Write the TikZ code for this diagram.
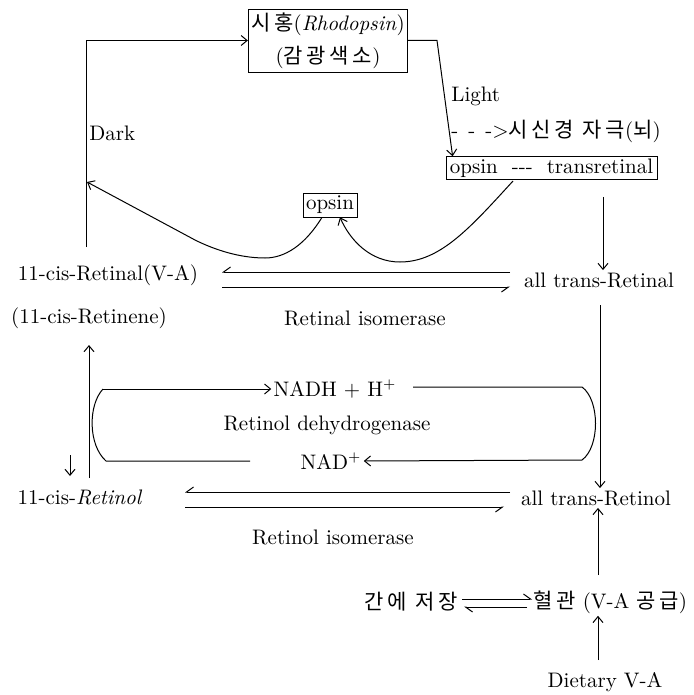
\documentclass[tikz,border=0pt]{standalone}
\usepackage{fontspec}
\newfontfamily\kr[LetterSpace=18]{Noto Sans CJK KR}
\usetikzlibrary{arrows.meta,calc}
\begin{document}
\begin{tikzpicture}[x=0.5pt,y=-0.5pt,
  every node/.style={inner sep=1pt, font=\fontsize{10.5}{12}\selectfont},
  boxed/.style={draw, line width=0.4pt, inner sep=1.5pt},
  ln/.style={line width=0.5pt},
  arr/.style={ln, -{Straight Barb[length=3pt,width=5pt]}},
  hpa/.style={ln, -{Straight Barb[harpoon,length=3.5pt,width=5pt]}},
  hpb/.style={ln, -{Straight Barb[harpoon,swap,length=3.5pt,width=5pt]}}]
\useasboundingbox (0,0) rectangle (693,695);

% nodes
\node[boxed, minimum width=78pt, minimum height=31.5pt, align=center] (rho) at (328,40.5)
  {{\kr 시홍}(\textit{Rhodopsin})\\[4.5pt]({\kr 감광색소})};
\node[anchor=west] (light) at (449,96) {Light};
\node[anchor=west] (nerve) at (449,131) {-\hspace{5pt}-\hspace{5pt}->{\kr 시신경 자극}({\kr 뇌})};
\node[boxed, minimum width=105.5pt, minimum height=11pt, inner sep=1pt] (ot) at (551.5,168)
  {opsin\ \ -{}-{}-\ \ transretinal};
\node[boxed] (op) at (330,205) {opsin};
\node[anchor=west] (dark) at (87,133) {Dark};
\node (cisal) at (108,275) {11-cis-Retinal(V-A)};
\node (cisene) at (89,318) {(11-cis-Retinene)};
\node (atal) at (599,280) {all trans-Retinal};
\node (rtiso) at (365,318) {Retinal isomerase};
\node (nadh) at (335,389) {NADH + H$^{+}$};
\node (dehyd) at (327,425) {Retinol dehydrogenase};
\node (nad) at (331,461) {NAD$^{+}$};
\node (cisol) at (80,497) {11-cis-\textit{Retinol}};
\node (atol) at (596,498) {all trans-Retinol};
\node (roiso) at (333,537) {Retinol isomerase};
\node[anchor=east] (liver) at (460,602) {\kr 간에 저장};
\node[anchor=west] (blood) at (531,602) {{\kr 혈관} (V-A {\kr 공급})};
\node (diet) at (605,682) {Dietary V-A};

% Dark loop
\coordinate (dk0) at (86,247);
\draw[arr] (dk0) |- (rho.west);
% Light
\coordinate (lt1) at (437,40.5);
\draw[arr] (rho.east) -- (lt1) -- ($(ot.north west)+(7,0)$);
% curves through opsin
\coordinate (c1s) at (513,181);
\draw[arr] (c1s) .. controls (470,228) and (440,262) .. (400,262)
  .. controls (370,262) and (350,240) .. ($(op.south)+(10,0)$);
\coordinate (c2e) at (87,182);
\draw[arr] ($(op.south)+(-8,0)$) .. controls (305,245) and (285,258) .. (265,258)
  .. controls (240,258) and (215,250) .. (195,240) -- (c2e);
% down to all trans-Retinal
\coordinate (a1) at (603,197);
\draw[arr] (a1) -- (a1 |- atal.north);
% Retinal isomerase harpoons
\coordinate (e1a) at (510,272); \coordinate (e1b) at (222,272);
\coordinate (e1c) at (222,287); \coordinate (e1d) at (510,287);
\draw[hpb] (e1a) -- (e1b);
\draw[hpb] (e1c) -- (e1d);
% left side arrows
\coordinate (l1) at (89,478); \coordinate (l1t) at (89,345);
\draw[arr] (l1) -- (l1t);
\coordinate (l2) at (70,455); \coordinate (l2t) at (70,476);
\draw[arr] (l2) -- (l2t);
% dehydrogenase bracket
\coordinate (bl1) at (103,389); \coordinate (bl2) at (106,461);
\coordinate (bl3) at (250,461);
\draw[arr] (bl1) -- (nadh.west);
\draw[ln] (bl1) .. controls (88,405) and (88,445) .. (bl2) -- (bl3);
\coordinate (br0) at (413,387);
\coordinate (br1) at (582,387); \coordinate (br2) at (582,460);
\draw[ln] (br0) -- (br1) .. controls (600,400) and (600,447) .. (br2);
\draw[arr] (br2) -- (nad.east);
% long right arrow
\coordinate (r1) at (600,305);
\draw[arr] (r1) -- (r1 |- atol.north);
% Retinol isomerase harpoons
\coordinate (e2a) at (510,492); \coordinate (e2b) at (185,492);
\coordinate (e2c) at (185,507); \coordinate (e2d) at (504,507);
\draw[hpb] (e2a) -- (e2b);
\draw[hpb] (e2c) -- (e2d);
% blood -> all trans-Retinol
\coordinate (b1) at (598,575);
\draw[arr] (b1) -- (b1 |- atol.south);
% liver/blood harpoons
\coordinate (e3a) at (462,599); \coordinate (e3b) at (532,599);
\coordinate (e3c) at (527,607); \coordinate (e3d) at (464,607);
\draw[hpa] (e3a) -- (e3b);
\draw[hpa] (e3c) -- (e3d);
% diet -> blood
\coordinate (d1) at (598,660);
\draw[arr] (d1) -- (d1 |- blood.south);
\end{tikzpicture}
\end{document}
